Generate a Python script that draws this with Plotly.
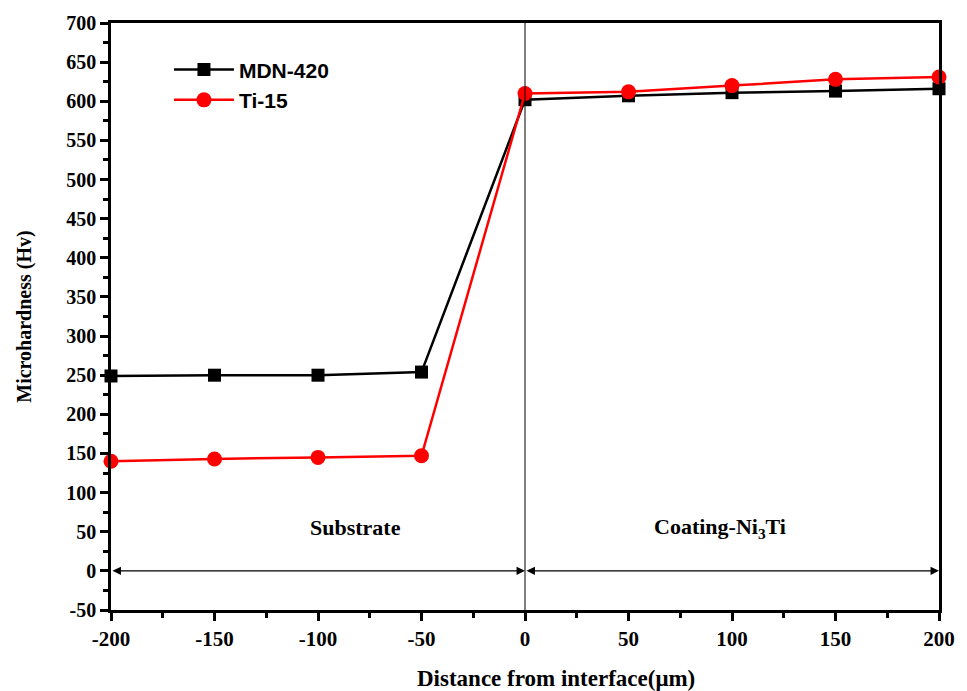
import plotly.graph_objects as go

distance = [-200, -150, -100, -50, 0, 50, 100, 150, 200]
mdn420 = [249, 250, 250, 254, 602, 607, 611, 613, 616]
ti15 = [140, 143, 145, 147, 610, 612, 620, 628, 631]

x_ticks = [-200, -150, -100, -50, 0, 50, 100, 150, 200]
x_labels = ["<b>-200</b>", "<b>-150</b>", "<b>-100</b>", "<b>-50</b>", "<b>0</b>",
            "<b>50</b>", "<b>100</b>", "<b>150</b>", "<b>200</b>"]
y_ticks = list(range(-50, 701, 50))
y_labels = [f"<b>{v}</b>" for v in y_ticks]

serif = "Liberation Serif"
sans = "Liberation Sans"

fig = go.Figure()
fig.add_trace(go.Scatter(x=distance, y=mdn420, name="MDN-420", mode="lines+markers",
                         line=dict(color="black", width=2.5),
                         marker=dict(symbol="square", size=13, color="black"),
                         cliponaxis=False))
fig.add_trace(go.Scatter(x=distance, y=ti15, name="Ti-15", mode="lines+markers",
                         line=dict(color="#ff0000", width=2.5),
                         marker=dict(symbol="circle", size=15, color="#ff0000"),
                         cliponaxis=False))

# interface line
fig.add_shape(type="line", x0=0, x1=0, y0=-50, y1=700, xref="x", yref="y",
              line=dict(color="black", width=1))

# region arrows (double-headed)
regions = [(-200, 0), (0, 200)]
for a, b in regions:
    fig.add_annotation(x=b, y=0, ax=a, ay=0, xref="x", yref="y", axref="x", ayref="y",
                       showarrow=True, arrowhead=2, arrowside="end+start", arrowsize=1.3,
                       arrowwidth=1.3, arrowcolor="black", text="", standoff=0, startstandoff=0)

fig.add_annotation(x=-82, y=55, text="<b>Substrate</b>", showarrow=False,
                   font=dict(family=serif, size=22, color="black"))
fig.add_annotation(x=94, y=55, text="<b>Coating-Ni<sub>3</sub>Ti</b>", showarrow=False,
                   font=dict(family=serif, size=22, color="black"))
fig.add_annotation(x=0.538, y=0, xref="paper", yref="paper", yshift=-54, yanchor="top",
                   text="<b>Distance from interface(μm)</b>", showarrow=False,
                   font=dict(family=serif, size=23, color="black"))

fig.update_layout(
    width=967, height=691,
    margin=dict(l=111, r=21, t=22, b=81),
    plot_bgcolor="white", paper_bgcolor="white",
    showlegend=True,
    legend=dict(x=0.07, y=0.955, xanchor="left", yanchor="top",
                font=dict(family=sans, size=21, color="black", weight="bold"),
                bgcolor="rgba(0,0,0,0)", itemwidth=60, tracegroupgap=0,
                traceorder="normal"),
    xaxis=dict(range=[-200, 200], tickvals=x_ticks, ticktext=x_labels, ticks="outside",
               ticklen=8, tickwidth=2.5,
               tickcolor="black", showline=True, linewidth=2.5, linecolor="black", mirror=True,
               showgrid=False, zeroline=False,
               minor=dict(dtick=25, ticks="outside", ticklen=5, tickwidth=2.5, tickcolor="black"),
               tickfont=dict(family=serif, size=21, color="black")),
    yaxis=dict(range=[-50, 700], tickvals=y_ticks, ticktext=y_labels, ticks="outside",
               ticklen=8, tickwidth=2.5,
               tickcolor="black", showline=True, linewidth=2.5, linecolor="black", mirror=True,
               showgrid=False, zeroline=False,
               minor=dict(dtick=25, ticks="outside", ticklen=5, tickwidth=2.5, tickcolor="black"),
               tickfont=dict(family=serif, size=20, color="black"),
               title=dict(text="<b>Microhardness (Hv)</b>", standoff=30,
                          font=dict(family=serif, size=20, color="black"))),
)

fig.write_html("out.html")
